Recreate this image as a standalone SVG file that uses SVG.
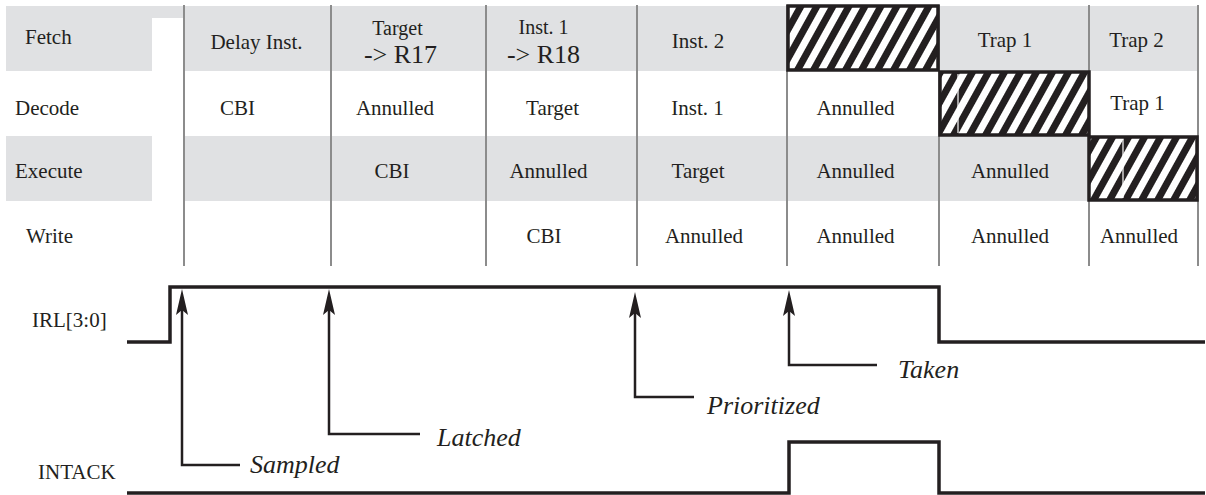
<svg xmlns="http://www.w3.org/2000/svg" width="1206" height="495" viewBox="0 0 1206 495">
<style>
text{font-family:"Liberation Serif","Times New Roman",serif;fill:#231f20;font-size:21px}
.c{text-anchor:middle}
.big{font-size:26px}
.sm{font-size:20px}
.it{font-style:italic;font-size:26px}
.band{fill:#e0e1e3}
.grid{stroke:#8c8c8c;stroke-width:2;fill:none}
.hatch{fill:url(#hatch);stroke:#231f20;stroke-width:3.5}
.sig{fill:none;stroke:#231f20;stroke-width:3.5;stroke-linejoin:miter}
.conn{fill:none;stroke:#231f20;stroke-width:2.5;marker-end:url(#arr)}
</style>
<defs>
<pattern id="hatch" width="14" height="14" patternUnits="userSpaceOnUse" patternTransform="rotate(29)">
<rect width="14" height="14" fill="#fff"/>
<rect width="7" height="14" fill="#231f20"/>
</pattern>
<marker id="arr" markerUnits="userSpaceOnUse" markerWidth="40" markerHeight="14" viewBox="-26 -7 40 14" refX="-12" refY="0" orient="auto">
<path d="M0,0 L-26,-6 L-21,0 L-26,6 Z" fill="#231f20"/>
</marker>
</defs>
<g id="table">
<rect class="band" x="6" y="6" width="1192" height="65"/>
<rect x="152" y="18" width="32" height="53" fill="#fff"/>
<rect class="band" x="6" y="136" width="146" height="65"/>
<rect class="band" x="184" y="136" width="1014" height="65"/>
<g class="grid">
<line x1="184" y1="5" x2="184" y2="266"/>
<line x1="331" y1="5" x2="331" y2="266"/>
<line x1="486" y1="5" x2="486" y2="266"/>
<line x1="637" y1="5" x2="637" y2="266"/>
<line x1="787" y1="5" x2="787" y2="266"/>
<line x1="939" y1="5" x2="939" y2="266"/>
<line x1="1089" y1="5" x2="1089" y2="266"/>
<line x1="1198" y1="5" x2="1198" y2="266"/>
</g>
</g>
<g id="hatch-fetch"><rect class="hatch" x="788" y="6" width="150" height="64"/></g>
<g id="hatch-decode"><rect class="hatch" x="940" y="72" width="149" height="63"/><line x1="958" y1="74" x2="958" y2="133" stroke="#fff" stroke-width="1.2"/></g>
<g id="hatch-execute"><rect class="hatch" x="1089" y="137" width="108" height="63"/><line x1="1123" y1="139" x2="1123" y2="198" stroke="#fff" stroke-width="1.2"/></g>
<g id="row-labels">
<text x="25" y="44">Fetch</text>
<text x="15" y="115">Decode</text>
<text x="15" y="178">Execute</text>
<text x="26" y="243">Write</text>
</g>
<g id="fetch-row">
<text class="c" x="256.5" y="49">Delay Inst.</text>
<text class="c sm" x="397.5" y="35">Target</text>
<text class="c big" x="400.5" y="63">-&gt; R17</text>
<text class="c sm" x="543.5" y="34">Inst. 1</text>
<text class="c big" x="543.5" y="63">-&gt; R18</text>
<text class="c" x="698" y="48">Inst. 2</text>
<text class="c" x="1005" y="47">Trap 1</text>
<text class="c" x="1136.5" y="47">Trap 2</text>
</g>
<g id="decode-row">
<text class="c" x="237.5" y="115">CBI</text>
<text class="c" x="395" y="115">Annulled</text>
<text class="c" x="552.5" y="115">Target</text>
<text class="c" x="697.5" y="115">Inst. 1</text>
<text class="c" x="855.5" y="115">Annulled</text>
<text class="c" x="1137.5" y="110">Trap 1</text>
</g>
<g id="execute-row">
<text class="c" x="392" y="178">CBI</text>
<text class="c" x="548.5" y="178">Annulled</text>
<text class="c" x="698" y="178">Target</text>
<text class="c" x="855.5" y="178">Annulled</text>
<text class="c" x="1010" y="178">Annulled</text>
</g>
<g id="write-row">
<text class="c" x="544" y="243">CBI</text>
<text class="c" x="704" y="243">Annulled</text>
<text class="c" x="855.5" y="243">Annulled</text>
<text class="c" x="1010" y="243">Annulled</text>
<text class="c" x="1139" y="243">Annulled</text>
</g>
<g id="irl">
<text x="32" y="327">IRL[3:0]</text>
<path class="sig" d="M127,342 H170 V287 H939 V342 H1205"/>
</g>
<g id="intack">
<text x="38" y="479">INTACK</text>
<path class="sig" d="M127,493 H789 V442 H939 V493 H1205" stroke-width="3"/>
</g>
<g id="connectors">
<path class="conn" d="M240,465 H182 V301"/>
<path class="conn" d="M420,434 H329 V301"/>
<path class="conn" d="M694,397 H635 V304"/>
<path class="conn" d="M877,365 H789 V302"/>
</g>
<g id="event-labels">
<text class="it" x="250" y="473">Sampled</text>
<text class="it" x="437" y="446">Latched</text>
<text class="it" x="707" y="414">Prioritized</text>
<text class="it" x="898" y="378">Taken</text>
</g>
</svg>
